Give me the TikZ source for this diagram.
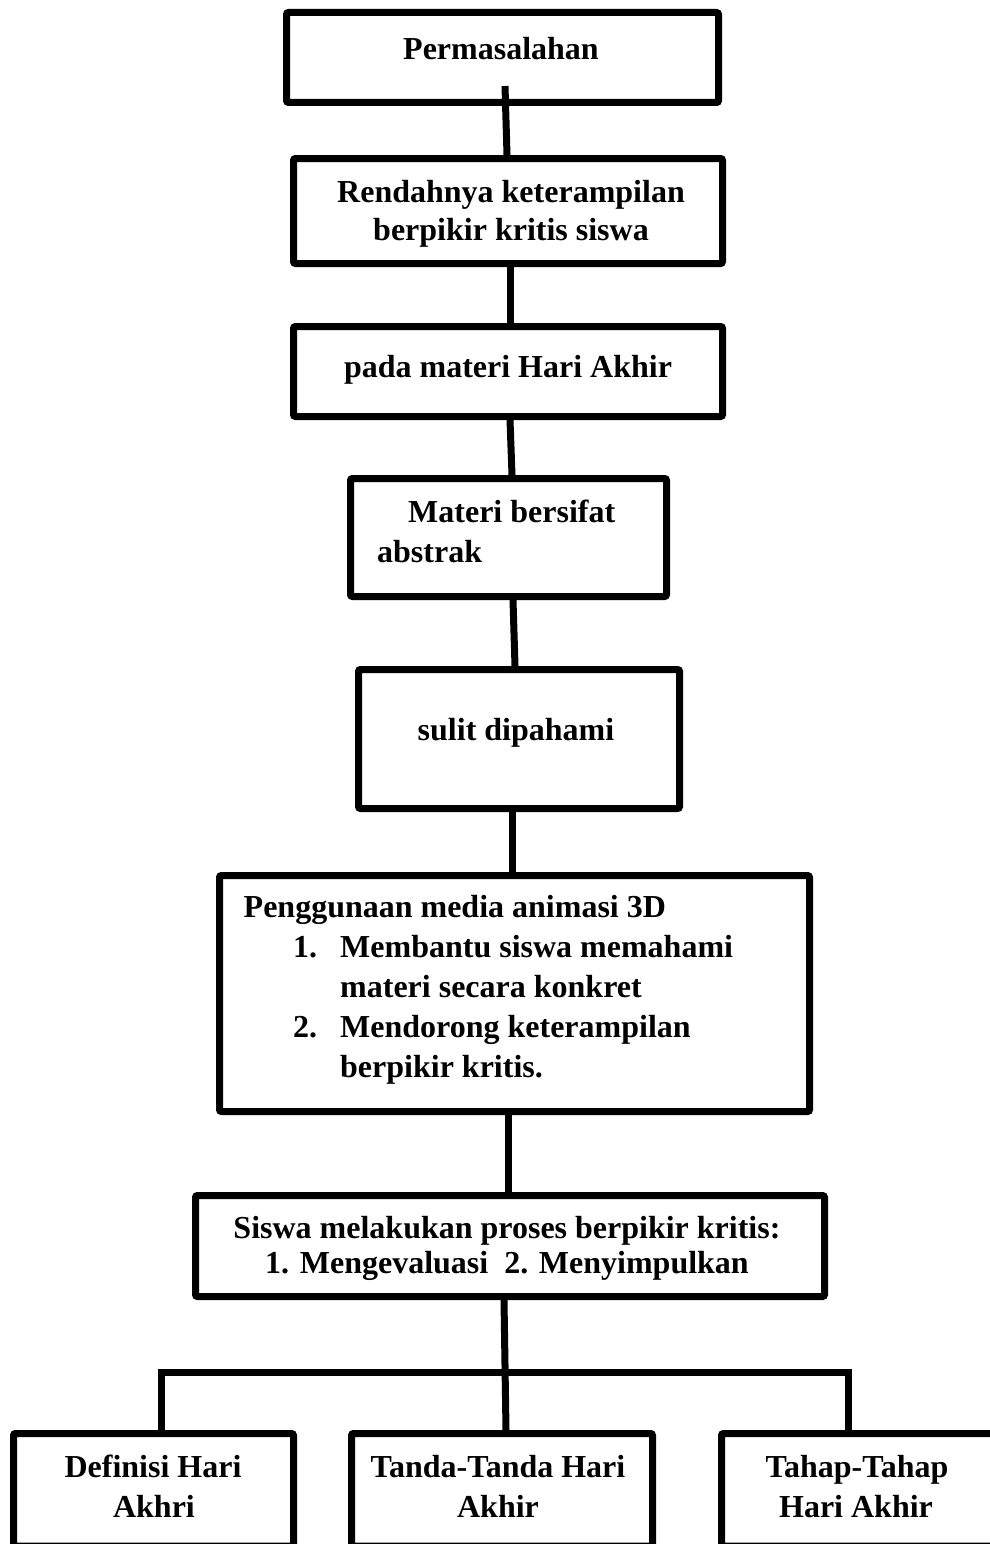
\documentclass[tikz,border=0pt]{standalone}
\usepackage{fontspec}
\setmainfont{Liberation Serif}
\begin{document}
\begin{tikzpicture}[x=1pt,y=-1pt,
  box/.style={draw, line width=7pt, rounded corners=2pt, inner sep=0pt},
  conn/.style={line width=7pt},
  txt/.style={anchor=base, inner sep=0pt, font=\bfseries\fontsize{32}{38}\selectfont},
  txtl/.style={txt, anchor=base west}]
\useasboundingbox (0,0) rectangle (990,1544);
\clip (0,0) rectangle (990,1544);
% boxes
\node[box, minimum width=432pt, minimum height=90pt] (b1) at (502.5,57.5) {};
\node[box, minimum width=429pt, minimum height=105pt] (b2) at (508,211) {};
\node[box, minimum width=429pt, minimum height=90pt] (b3) at (508,371.5) {};
\node[box, minimum width=316pt, minimum height=118pt] (b4) at (508.5,537.5) {};
\node[box, minimum width=321pt, minimum height=139pt] (b5) at (519,739) {};
\node[box, minimum width=590pt, minimum height=236pt] (b6) at (514.5,993.5) {};
\node[box, minimum width=629pt, minimum height=101pt] (b7) at (510,1246) {};
\node[box, minimum width=280pt, minimum height=112.5pt] (bA) at (153.5,1489.75) {};
\node[box, minimum width=301pt, minimum height=112.5pt] (bB) at (502,1489.75) {};
\node[box, minimum width=272.5pt, minimum height=112.5pt] (bC) at (857.75,1489.75) {};
% texts
\node[txt] (t1) at (501,60) {Permasalahan};
\node[txt] (t2a) at (511,202) {Rendahnya keterampilan};
\node[txt] (t2b) at (511,240) {berpikir kritis siswa};
\node[txt] (t3) at (508,377) {pada materi Hari Akhir};
\node[txtl] (t4a) at (408,522) {Materi bersifat};
\node[txtl] (t4b) at (377,562) {abstrak};
\node[txt] (t5) at (516,740) {sulit dipahami};
\node[txtl] (t6a) at (243.5,917) {Penggunaan media animasi 3D};
\node[txtl] (t6n1) at (293,957) {1.};
\node[txtl] (t6b) at (340,957) {Membantu siswa memahami};
\node[txtl] (t6c) at (340,997) {materi secara konkret};
\node[txtl] (t6n2) at (293,1037) {2.};
\node[txtl] (t6d) at (340,1037) {Mendorong keterampilan};
\node[txtl] (t6e) at (340,1077) {berpikir kritis.};
\node[txt] (t7a) at (507,1238) {Siswa melakukan proses berpikir kritis:};
\node[txt] (t7b) at (507,1273) {1. Mengevaluasi\ \ 2. Menyimpulkan};
\node[txt] (tAa) at (153,1477) {Definisi Hari};
\node[txt] (tAb) at (154,1517) {Akhri};
\node[txt] (tBa) at (498,1477) {Tanda-Tanda Hari};
\node[txt] (tBb) at (498,1517) {Akhir};
\node[txt] (tCa) at (857,1477) {Tahap-Tahap};
\node[txt] (tCb) at (856,1517) {Hari Akhir};
% connectors
\coordinate (c1s) at (505,86);
\draw[conn] (c1s) -- ([xshift=-1pt]b2.north);
\draw[conn] ([xshift=2pt]b2.south) -- ([xshift=2pt]b3.north);
\draw[conn] ([xshift=2pt]b3.south) -- ([xshift=3.5pt]b4.north);
\draw[conn] ([xshift=4.5pt]b4.south) -- ([xshift=-4pt]b5.north);
\draw[conn] ([xshift=-7pt]b5.south) -- ([xshift=-2.5pt]b6.north);
\draw[conn] ([xshift=-6.5pt]b6.south) -- ([xshift=-2pt]b7.north);
\draw[conn] ([xshift=-6pt]b7.south) -- ([xshift=4pt]bB.north);
\coordinate (busL) at (161,1372.5);
\coordinate (busR) at (848,1372.5);
\draw[conn] (bA.north -| busL) -- (busL) -- (busR) -- (bC.north -| busR);
\end{tikzpicture}
\end{document}
